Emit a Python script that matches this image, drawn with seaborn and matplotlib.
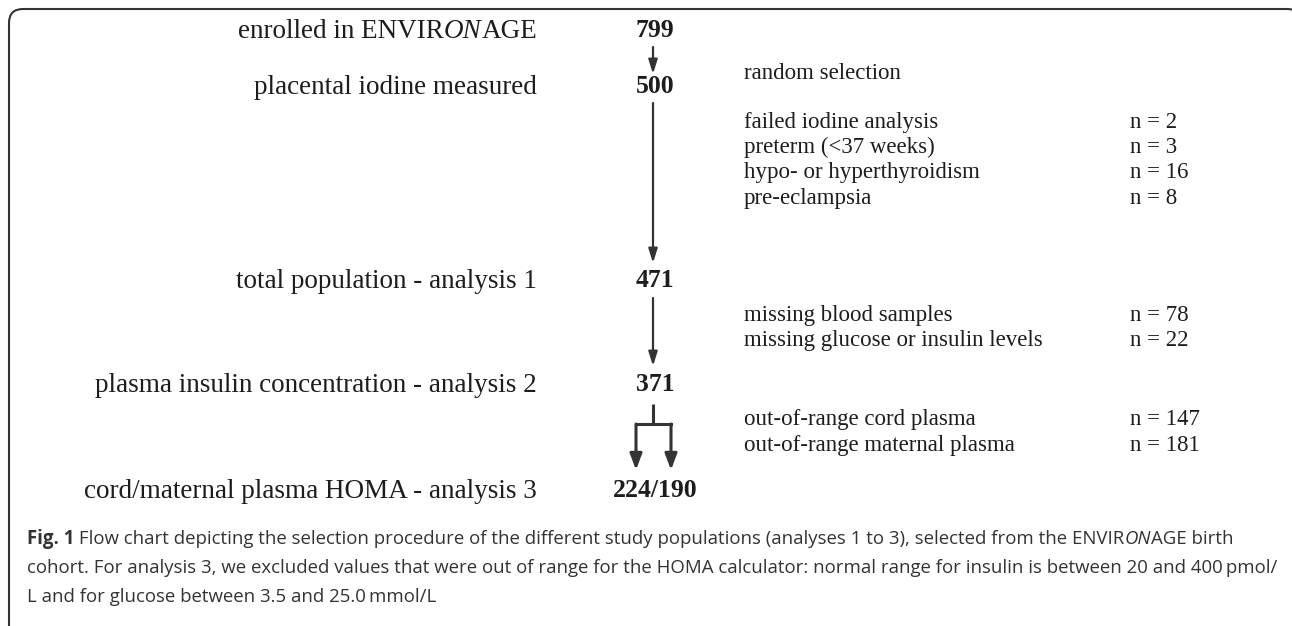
import matplotlib
matplotlib.use("Agg")
import matplotlib.pyplot as plt
import seaborn as sns
from matplotlib.patches import FancyBboxPatch

# flow chart content
stage_labels = [
    [("enrolled in ENVIR", "normal"), ("ON", "italic"), ("AGE", "normal")],
    [("placental iodine measured", "normal")],
    [("total population - analysis 1", "normal")],
    [("plasma insulin concentration - analysis 2", "normal")],
    [("cord/maternal plasma HOMA - analysis 3", "normal")],
]
stage_counts = ["799", "500", "471", "371", "224/190"]

exclusion_labels = [
    "random selection",
    "failed iodine analysis",
    "preterm (<37 weeks)",
    "hypo- or hyperthyroidism",
    "pre-eclampsia",
    "missing blood samples",
    "missing glucose or insulin levels",
    "out-of-range cord plasma",
    "out-of-range maternal plasma",
]
exclusion_counts = ["", "n = 2", "n = 3", "n = 16", "n = 8", "n = 78", "n = 22", "n = 147", "n = 181"]

caption_lines = [
    [("Fig. 1", "bold"),
     (" Flow chart depicting the selection procedure of the different study populations "
      "(analyses 1 to 3), selected from the ENVIR", "normal"),
     ("ON", "italic"), ("AGE birth", "normal")],
    [("cohort. For analysis 3, we excluded values that were out of range for the HOMA "
      "calculator: normal range for insulin is between 20 and 400\u2009pmol/", "normal")],
    [("L and for glucose between 3.5 and 25.0\u2009mmol/L", "normal")],
]

sns.set_theme(style="white")
SERIF = ["Liberation Serif", "DejaVu Serif"]
CAPFONT = ["Open Sans", "DejaVu Sans"]
INK = "#1e1c1d"
GREY = "#333333"

W, H = 1292, 626
fig = plt.figure(figsize=(W / 100, H / 100), dpi=100)
ax = fig.add_axes([0, 0, 1, 1])
ax.set_xlim(0, W)
ax.set_ylim(H, 0)
ax.axis("off")
renderer = fig.canvas.get_renderer()


def draw_runs(x, y, runs, ha="left", **kw):
    """write a line made of several styled pieces, one after the other"""
    texts = []
    for s, style in runs:
        weight = "bold" if style == "bold" else "normal"
        fstyle = "italic" if style == "italic" else "normal"
        t = ax.text(0, y, s, ha="left", va="baseline", fontweight=weight,
                    fontstyle=fstyle, **kw)
        texts.append(t)
    widths = [t.get_window_extent(renderer).width for t in texts]
    start = x - sum(widths) if ha == "right" else x
    for t, w in zip(texts, widths):
        t.set_x(start)
        start += w


# border (open at the bottom, right side runs off the picture)
ax.add_patch(FancyBboxPatch((9, 9), W, 700, boxstyle="round,pad=0,rounding_size=14",
                            fill=False, ec=GREY, lw=1.5, clip_on=True))

# left column: stage names and counts
stage_y = [30, 86, 280, 384, 490]
for lab, cnt, y in zip(stage_labels, stage_counts, stage_y):
    draw_runs(537, y + 8, lab, ha="right", family=SERIF, fontsize=19.5, color=INK)
    ax.text(655, y + 7, cnt, ha="center", va="baseline", family=SERIF,
            fontsize=18.5, fontweight="bold", color=INK)

# right column: exclusions
excl_y = [72, 121, 146, 171, 197, 314, 339, 418, 444]
for lab, cnt, y in zip(exclusion_labels, exclusion_counts, excl_y):
    ax.text(744, y + 7, lab, ha="left", va="baseline", family=SERIF, fontsize=16.5, color=INK)
    if cnt:
        ax.text(1130, y + 7, cnt, ha="left", va="baseline", family=SERIF, fontsize=16.5, color=INK)

# arrows
arrow_kw = dict(arrowstyle="-|>,head_length=0.7,head_width=0.22", color=GREY, lw=1.6,
                shrinkA=0, shrinkB=0)
for y0, y1 in [(47, 74), (103, 263), (298, 366)]:
    ax.annotate("", xy=(653, y1), xytext=(653, y0), arrowprops=arrow_kw)
ax.plot([653, 653], [404, 424], color=GREY, lw=2.2, solid_capstyle="butt")
ax.plot([636, 671], [424, 424], color=GREY, lw=2.2, solid_capstyle="projecting")
for xb in [636, 671]:
    ax.annotate("", xy=(xb, 470), xytext=(xb, 424),
                arrowprops=dict(arrow_kw, lw=2.2, arrowstyle="-|>,head_length=0.8,head_width=0.3"))

# caption
cap_y = [538, 567, 596]
for runs, y in zip(caption_lines, cap_y):
    draw_runs(27, y + 6, runs, family=CAPFONT, fontsize=13.4, color=GREY)

fig.savefig("out.png", dpi=100)
